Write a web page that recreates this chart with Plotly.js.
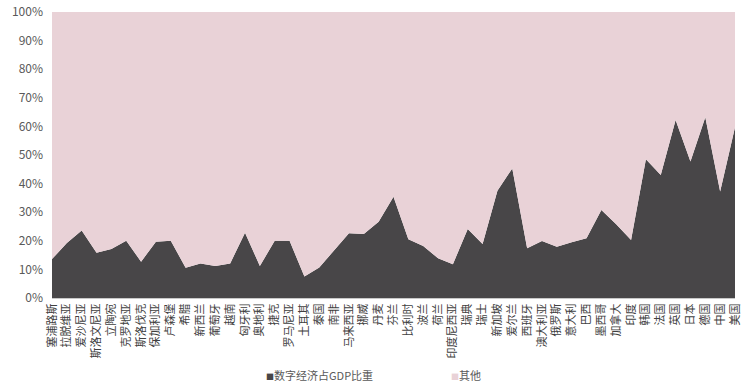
<!DOCTYPE html>
<html>
<head>
<meta charset="utf-8">
<script src="https://cdn.plot.ly/plotly-3.0.1.min.js"></script>
<style>
  html, body { margin: 0; padding: 0; background: #ffffff; }
  #chart { width: 743px; height: 383px; }
</style>
</head>
<body>
<div id="chart"></div>
<script>
// Countries, ordered by the size of their economy
const countries = [
  "塞浦路斯", "拉脱维亚", "爱沙尼亚", "斯洛文尼亚", "立陶宛", "克罗地亚", "斯洛伐克", "保加利亚",
  "卢森堡", "希腊", "新西兰", "葡萄牙", "越南", "匈牙利", "奥地利", "捷克", "罗马尼亚", "土耳其",
  "泰国", "南非", "马来西亚", "挪威", "丹麦", "芬兰", "比利时", "波兰", "荷兰", "印度尼西亚",
  "瑞典", "瑞士", "新加坡", "爱尔兰", "西班牙", "澳大利亚", "俄罗斯", "意大利", "巴西", "墨西哥",
  "加拿大", "印度", "韩国", "法国", "英国", "日本", "德国", "中国", "美国"
];

// Digital economy as a share of GDP (%)
const digitalShare = [
  13.6, 19.2, 23.6, 15.8, 17.1, 20.0, 12.7, 19.7,
  20.0, 10.6, 12.1, 11.2, 12.1, 22.8, 11.2, 20.0, 20.0, 7.5,
  10.7, 16.8, 22.6, 22.4, 26.7, 35.4, 20.5, 18.2, 13.9, 11.8,
  24.1, 18.9, 37.5, 45.3, 17.4, 19.9, 17.9, 19.5, 20.9, 30.8,
  25.8, 20.3, 48.5, 43.0, 62.2, 47.7, 63.2, 37.2, 59.7
];

// Remaining share of GDP (%)
const otherShare = digitalShare.map(v => 100 - v);

const seriesNames = ["数字经济占GDP比重", "其他"];
const yTickValues = [0, 10, 20, 30, 40, 50, 60, 70, 80, 90, 100];
const yTickLabels = ["0%", "10%", "20%", "30%", "40%", "50%", "60%", "70%", "80%", "90%", "100%"];

const DARK = "#484648";
const PINK = "#e9d2d7";
const FONT = "'Noto Sans CJK SC', 'Noto Sans', sans-serif";

const traces = [
  {
    x: countries, y: digitalShare, name: seriesNames[0],
    type: "scatter", mode: "lines", stackgroup: "share",
    line: { width: 0, color: DARK }, fillcolor: DARK,
    hoverinfo: "x+y"
  },
  {
    x: countries, y: otherShare, name: seriesNames[1],
    type: "scatter", mode: "lines", stackgroup: "share",
    line: { width: 0, color: PINK }, fillcolor: PINK,
    hoverinfo: "x+y"
  }
];

const layout = {
  width: 743, height: 383,
  margin: { l: 52, r: 8, t: 12, b: 85 },
  paper_bgcolor: "#ffffff",
  plot_bgcolor: "#ffffff",
  showlegend: false,
  font: { family: FONT, color: "#595959" },
  xaxis: {
    type: "category",
    range: [0, countries.length - 1],
    tickangle: -90,
    tickfont: { size: 11, color: "#404040", family: FONT },
    showgrid: false, zeroline: false,
    showline: true, linecolor: "#c8c8c8", linewidth: 1,
    ticks: "", fixedrange: true
  },
  yaxis: {
    range: [0, 100],
    tickvals: yTickValues, ticktext: yTickLabels,
    tickfont: { size: 12, color: "#595959", family: FONT },
    showgrid: false, zeroline: false, showline: false,
    ticks: "", ticklabelstandoff: 8, fixedrange: true
  },
  // Series key below the category labels
  annotations: [
    {
      xref: "paper", yref: "paper", x: (265 - 52) / 683, y: -0.268,
      xanchor: "left", yanchor: "middle", showarrow: false, borderpad: 0,
      text: '<span style="color:' + DARK + ';font-size:8px">■</span>' + seriesNames[0],
      font: { size: 11, color: "#595959", family: FONT }
    },
    {
      xref: "paper", yref: "paper", x: (450 - 52) / 683, y: -0.268,
      xanchor: "left", yanchor: "middle", showarrow: false, borderpad: 0,
      text: '<span style="color:' + PINK + ';font-size:8px">■</span>' + seriesNames[1],
      font: { size: 11, color: "#595959", family: FONT }
    }
  ]
};

Plotly.newPlot("chart", traces, layout, { displayModeBar: false, staticPlot: true });
</script>
</body>
</html>
